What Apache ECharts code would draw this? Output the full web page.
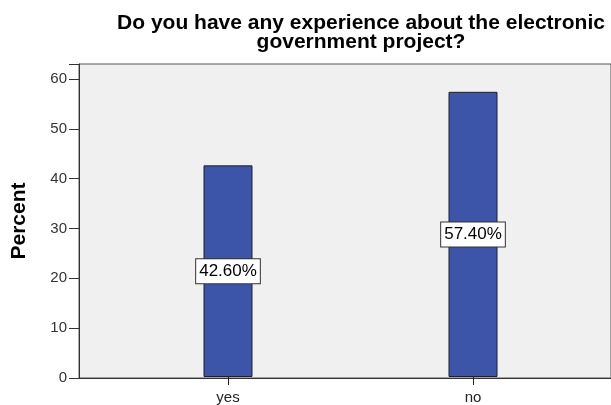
<!DOCTYPE html>
<html>
<head>
<meta charset="utf-8">
<title>Electronic government project experience</title>
<script src="https://cdn.jsdelivr.net/npm/echarts@6/dist/echarts.min.js"></script>
<style>
  html, body { margin: 0; padding: 0; background: #ffffff; }
  #chart { width: 611px; height: 405px; }
</style>
</head>
<body>
<div id="chart"></div>
<script>
// Survey answers and their share of respondents (%)
const categories = ['yes', 'no'];
const percentValues = [42.6, 57.4];
const yTicks = [0, 10, 20, 30, 40, 50, 60];

const titleText = 'Do you have any experience about the electronic\ngovernment project?';
const yAxisMax = 63;
const barColor = '#3d55a9';
const fontFamily = 'Arial, "Liberation Sans", sans-serif';

const chart = echarts.init(document.getElementById('chart'), null, { renderer: 'canvas' });

chart.setOption({
  animation: false,
  title: {
    text: titleText,
    left: 356,
    top: 9,
    textAlign: 'center',
    textStyle: {
      fontFamily: fontFamily,
      fontWeight: 'bold',
      fontSize: 21,
      lineHeight: 19,
      color: '#000000'
    }
  },
  grid: [
    // bar grid: bands placed so bars sit where the frame expects them
    { left: 105.5, right: 15.5, top: 64, bottom: 27, containLabel: false },
    // plot frame with grey backdrop, extending past the right edge
    { left: 79, right: -15, top: 64, bottom: 27, show: true,
      backgroundColor: '#f0f0f0', borderColor: '#555555', borderWidth: 1, containLabel: false }
  ],
  xAxis: [
    {
      type: 'category',
      gridIndex: 0,
      data: categories,
      axisLine: { show: false },
      axisTick: { show: true, alignWithLabel: true, length: 8, lineStyle: { color: '#222222', width: 1 } },
      axisLabel: { fontFamily: fontFamily, fontSize: 15, color: '#222222', margin: 13 }
    },
    {
      type: 'value',
      gridIndex: 1,
      min: 0, max: 1,
      axisLine: { show: true, lineStyle: { color: '#333333', width: 1 } },
      axisTick: { show: false },
      axisLabel: { show: false },
      splitLine: { show: false }
    }
  ],
  yAxis: [
    {
      type: 'value',
      gridIndex: 0,
      min: 0, max: yAxisMax,
      show: false
    },
    {
      type: 'value',
      gridIndex: 1,
      min: 0, max: yAxisMax,
      interval: 10,
      name: 'Percent',
      nameLocation: 'middle',
      nameGap: 49,
      nameTextStyle: { fontFamily: fontFamily, fontWeight: 'bold', fontSize: 21, color: '#000000' },
      axisLine: { show: true, lineStyle: { color: '#333333', width: 1 } },
      axisTick: { show: true, length: 10, lineStyle: { color: '#333333', width: 1 } },
      axisLabel: {
        fontFamily: fontFamily, fontSize: 15, color: '#333333', margin: 12,
        formatter: function (v) { return yTicks.indexOf(v) >= 0 ? String(v) : ''; }
      },
      splitLine: { show: false }
    }
  ],
  series: [
    {
      type: 'bar',
      xAxisIndex: 0,
      yAxisIndex: 0,
      data: percentValues,
      barWidth: 49,
      z: 5,
      itemStyle: { color: barColor, borderColor: '#1e1e2e', borderWidth: 1 },
      label: {
        show: true,
        position: 'inside',
        formatter: function (p) { return p.value.toFixed(2) + '%'; },
        fontFamily: fontFamily,
        fontSize: 17,
        color: '#000000',
        backgroundColor: '#ffffff',
        borderColor: '#333333',
        borderWidth: 1,
        padding: [4, 3, 3, 3]
      }
    }
  ]
});
</script>
</body>
</html>
